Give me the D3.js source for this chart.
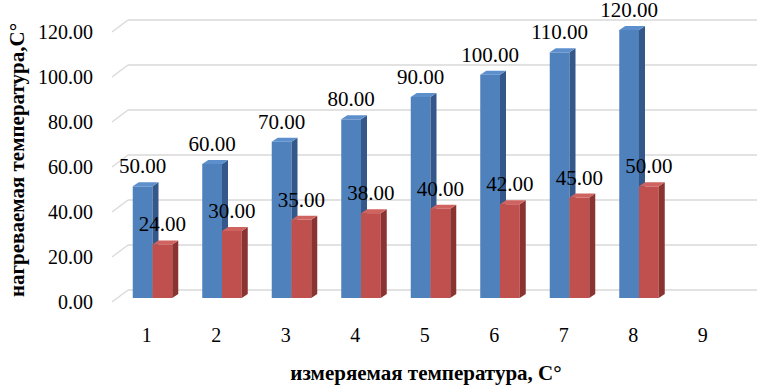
<!DOCTYPE html>
<html>
<head>
<meta charset="utf-8">
<script src="https://cdn.jsdelivr.net/npm/d3@7"></script>
<style>
  body { margin: 0; background: #fff; }
  #chart text { font-family: "Liberation Serif", "Times New Roman", serif; }
</style>
</head>
<body>
<svg id="chart"></svg>
<script>
// данные
const categories = ["1", "2", "3", "4", "5", "6", "7", "8", "9"]
const heated = [50, 60, 70, 80, 90, 100, 110, 120, null]
const measured = [24, 30, 35, 38, 40, 42, 45, 50, null]
const yTicks = [0, 20, 40, 60, 80, 100, 120]

const width = 762, height = 386
const depth = { x: 16, y: -12 }   // глубина пола/стены
const barDepth = { x: 6, y: -4 }  // глубина столбиков

const svg = d3.select("#chart").attr("width", width).attr("height", height)

const x = d3.scaleBand().domain(categories).range([112, 737.5]).padding(0)
const inner = d3.scaleBand().domain(["heated", "measured"])
    .range([x.bandwidth() / 2 - 14, x.bandwidth() / 2 + 25.5])

// шкала для столбиков (передняя плоскость)
const y = d3.scaleLinear().domain([0, 120]).range([298, 30])
// шкала задней стены
const yBack = d3.scaleLinear().domain([0, 120]).range([290, 20])

// сетка
const grid = svg.append("g")
yTicks.forEach(t => {
    const yb = yBack(t)
    grid.append("line")
        .attr("x1", 128).attr("x2", 757).attr("y1", yb).attr("y2", yb)
        .attr("stroke", "#d9d9d9").attr("stroke-width", 1.3)
    grid.append("line")
        .attr("x1", 112).attr("x2", 128).attr("y1", yb - depth.y).attr("y2", yb)
        .attr("stroke", "#d9d9d9").attr("stroke-width", 1.3)
})

// подписи оси Y
svg.append("g").selectAll("text")
    .data(yTicks)
    .join("text")
    .attr("x", 93)
    .attr("y", d => yBack(d) - depth.y + 7)
    .attr("text-anchor", "end")
    .style("font-size", "20px")
    .text(d => d.toFixed(2))

// подписи оси X
svg.append("g").selectAll("text")
    .data(categories)
    .join("text")
    .attr("x", d => x(d) + x.bandwidth() / 2)
    .attr("y", 342)
    .attr("text-anchor", "middle")
    .style("font-size", "20px")
    .text(d => d)

const series = [
    { key: "heated", values: heated, front: "#4f81bd", side: "#34588a", top: "#5d8fcc" },
    { key: "measured", values: measured, front: "#c0504d", side: "#8a3330", top: "#cf6360" }
]

const bars = []
series.forEach(s => {
    s.values.forEach((v, i) => {
        if (v == null) return
        bars.push({ s: s, cat: categories[i], value: v })
    })
})

const barG = svg.append("g")
    .selectAll("g")
    .data(bars)
    .join("g")

function bx(d) { return x(d.cat) + inner(d.s.key) }
const bw = inner.bandwidth()

barG.append("rect")
    .attr("x", d => bx(d))
    .attr("y", d => y(d.value))
    .attr("width", bw)
    .attr("height", d => y(0) - y(d.value))
    .attr("fill", d => d.s.front)

// правая грань
barG.append("path")
    .attr("fill", d => d.s.side)
    .attr("d", d => {
        const x0 = bx(d) + bw, yt = y(d.value), yb = y(0)
        return `M${x0},${yt}L${x0 + barDepth.x},${yt + barDepth.y}L${x0 + barDepth.x},${yb + barDepth.y}L${x0},${yb}Z`
    })

// верхняя грань
barG.append("path")
    .attr("fill", d => d.s.top)
    .attr("d", d => {
        const x0 = bx(d), yt = y(d.value)
        return `M${x0},${yt}L${x0 + barDepth.x},${yt + barDepth.y}L${x0 + bw + barDepth.x},${yt + barDepth.y}L${x0 + bw},${yt}Z`
    })

// подписи значений
svg.append("g").selectAll("text")
    .data(bars)
    .join("text")
    .attr("x", d => bx(d) + bw / 2)
    .attr("y", d => Math.max(y(d.value) - 13, 15))
    .attr("text-anchor", "middle")
    .style("font-size", "21px")
    .attr("fill", "#000")
    .text(d => d.value.toFixed(2))

// заголовки осей
svg.append("text")
    .attr("transform", "translate(24,160) rotate(-90)")
    .attr("text-anchor", "middle")
    .style("font-size", "21px")
    .style("font-weight", "bold")
    .text("нагреваемая температура,С°")

svg.append("text")
    .attr("x", 426)
    .attr("y", 380)
    .attr("text-anchor", "middle")
    .style("font-size", "21px")
    .style("font-weight", "bold")
    .text("измеряемая температура, С°")
</script>
</body>
</html>
